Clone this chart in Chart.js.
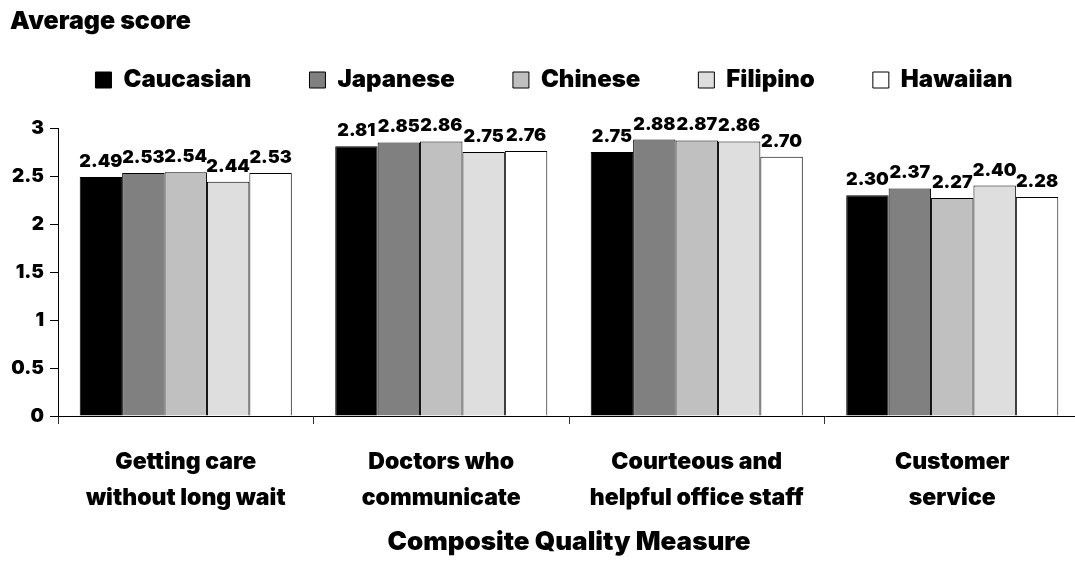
<!DOCTYPE html>
<html>
<head>
<meta charset="utf-8">
<title>Average score by Composite Quality Measure</title>
<script src="https://cdn.jsdelivr.net/npm/chart.js@4/dist/chart.umd.min.js"></script>
<style>
    html, body { margin: 0; padding: 0; overflow: hidden; background: #fff; }
    #wrap { width: 1082px; height: 571px; position: relative; }
</style>
</head>
<body>
<div id="wrap"><canvas id="scoreChart"></canvas></div>
<script>
(function () {
    'use strict';

    var categories = [
        ['Getting care', 'without long wait'],
        ['Doctors who', 'communicate'],
        ['Courteous and', 'helpful office staff'],
        ['Customer', 'service']
    ];

    var groups = ['Caucasian', 'Japanese', 'Chinese', 'Filipino', 'Hawaiian'];

    var caucasian = [2.49, 2.81, 2.75, 2.30];
    var japanese  = [2.53, 2.85, 2.88, 2.37];
    var chinese   = [2.54, 2.86, 2.87, 2.27];
    var filipino  = [2.44, 2.75, 2.86, 2.40];
    var hawaiian  = [2.53, 2.76, 2.70, 2.28];

    var yTicks = [0, 0.5, 1, 1.5, 2, 2.5, 3];

    var fills = ['#000000', '#808080', '#c0c0c0', '#dedede', '#ffffff'];
    var series = [caucasian, japanese, chinese, filipino, hawaiian];

    var FONT = 'Inter, "DejaVu Sans", Arial, sans-serif';

    Chart.defaults.font.family = FONT;
    Chart.defaults.font.weight = 900;
    Chart.defaults.color = '#000';

    // value labels above each bar
    var barLabels = {
        'id': 'barLabels',
        afterDatasetsDraw: function (chart) {
            var ctx = chart.ctx;
            ctx.save();
            ctx.font = '900 18px ' + FONT;
            ctx.fillStyle = '#000';
            ctx.textAlign = 'center';
            ctx.textBaseline = 'alphabetic';
            chart.data.datasets.forEach(function (ds, i) {
                chart.getDatasetMeta(i).data.forEach(function (bar, j) {
                    ctx.fillText(ds.data[j].toFixed(2), bar.x, bar.y - 10);
                });
            });
            ctx.restore();
        }
    };

    // extra room below the legend, and nudge it a little to the right
    var legendSpace = {
        'id': 'legendSpace',
        beforeInit: function (chart) {
            var fit = chart.legend.fit;
            chart.legend.fit = function () {
                fit.call(this);
                this.height = 118;
                if (this.lineWidths && this.lineWidths.length) {
                    this.lineWidths[0] -= 18;
                }
            };
        }
    };

    new Chart(document.getElementById('scoreChart'), {
        'type': 'bar',
        'data': {
            'labels': categories,
            'datasets': groups.map(function (name, i) {
                return {
                    'label': name,
                    'data': series[i],
                    'backgroundColor': fills[i],
                    'borderColor': '#000',
                    'borderWidth': 1,
                    'categoryPercentage': 0.83,
                    'barPercentage': 1
                };
            })
        },
        'options': {
            'responsive': true,
            'maintainAspectRatio': false,
            'animation': false,
            'layout': { 'padding': { 'left': 10, 'right': 2, 'top': 0, 'bottom': 0 } },
            'plugins': {
                'title': {
                    'display': true,
                    'text': 'Average score',
                    'align': 'start',
                    'font': { 'size': 25, 'weight': 900 },
                    'color': '#000',
                    'padding': { 'top': 6, 'bottom': -26 }
                },
                'legend': {
                    'position': 'top',
                    'labels': {
                        'boxWidth': 16,
                        'boxHeight': 16,
                        'padding': 58,
                        'font': { 'size': 24, 'weight': 900 },
                        'color': '#000'
                    }
                },
                'tooltip': { 'enabled': false }
            },
            'scales': {
                'x': {
                    'grid': {
                        'offset': true,
                        'drawOnChartArea': false,
                        'tickLength': 8,
                        'color': '#333'
                    },
                    'border': { 'color': '#000', 'width': 1 },
                    'ticks': {
                        'font': { 'size': 23, 'weight': 900, 'lineHeight': 1.565 },
                        'padding': 20,
                        'maxRotation': 0,
                        'autoSkip': false,
                        'color': '#000'
                    },
                    'title': {
                        'display': true,
                        'text': 'Composite Quality Measure',
                        'font': { 'size': 26, 'weight': 900 },
                        'color': '#000',
                        'padding': { 'top': -9.6, 'bottom': 13.4 }
                    }
                },
                'y': {
                    'min': yTicks[0],
                    'max': yTicks[yTicks.length - 1],
                    'afterBuildTicks': function (scale) {
                        scale.ticks = yTicks.map(function (v) { return { 'value': v }; });
                    },
                    'afterFit': function (scale) {
                        scale.width = 48;
                    },
                    'grid': {
                        'drawOnChartArea': false,
                        'tickLength': 8,
                        'color': '#000'
                    },
                    'border': { 'color': '#000', 'width': 1 },
                    'ticks': {
                        'font': { 'size': 19, 'weight': 900 },
                        'padding': 6,
                        'color': '#000',
                        'callback': function (value) { return String(value); }
                    }
                }
            }
        },
        'plugins': [barLabels, legendSpace]
    });
}());
</script>
</body>
</html>
